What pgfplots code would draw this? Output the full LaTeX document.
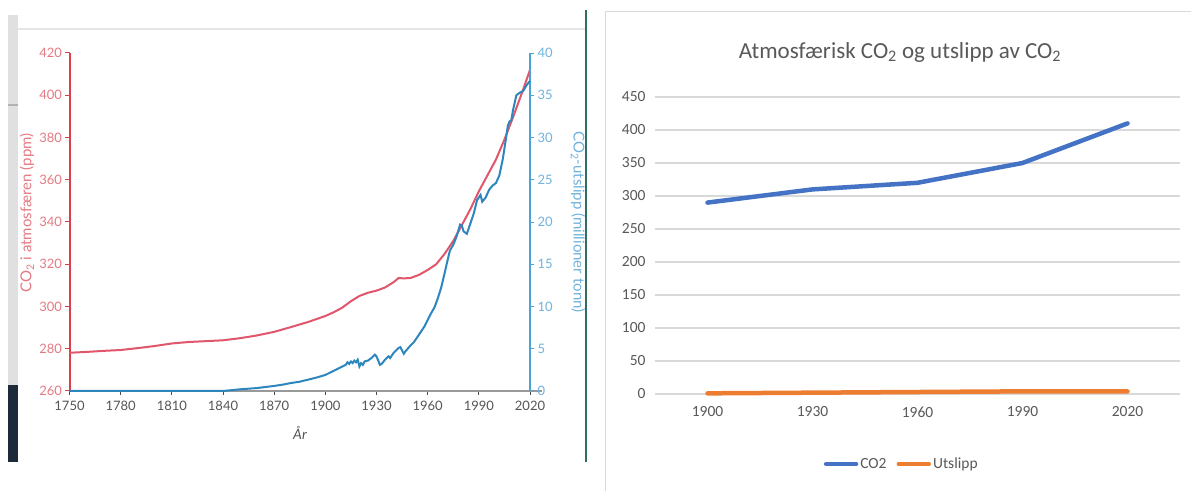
\documentclass[border=0pt]{standalone}
\usepackage{fontspec}
\setmainfont{Lato}
\newfontfamily\xlfont{Carlito}
\usepackage{pgfplots}
\pgfplotsset{compat=1.18}
\definecolor{redaxis}{HTML}{D9404C}
\definecolor{redline}{HTML}{E0566A}
\definecolor{redlab}{HTML}{E57A82}
\definecolor{blueaxis}{HTML}{4AA3D6}
\definecolor{blueline}{HTML}{2E86BE}
\definecolor{bluelab}{HTML}{6FB3DE}
\definecolor{greylab}{HTML}{555555}
\definecolor{navy}{HTML}{1C2A3A}
\definecolor{dgreen}{HTML}{2F6E60}
\definecolor{xlblue}{HTML}{4472C4}
\definecolor{xlorange}{HTML}{ED7D31}
\definecolor{xltext}{HTML}{595959}
\definecolor{xlgrid}{HTML}{D9D9D9}
\begin{document}
\begin{tikzpicture}
\useasboundingbox (0pt,0pt) rectangle (1191pt,490pt);
\fill[white] (0pt,0pt) rectangle (1191pt,490pt);
% left panel decorations
\fill[black!12] (8pt,105pt) rectangle (18pt,475pt);
\fill[black!30] (8pt,384pt) rectangle (18pt,386pt);
\fill[navy] (8pt,28pt) rectangle (18pt,105pt);
\draw[black!10, line width=2pt] (18pt,461pt) -- (585pt,461pt);
\draw[dgreen, line width=2pt] (586pt,28pt) -- (586pt,480pt);
% right panel border
\draw[xlgrid, line width=1pt] (605pt,-2pt) -- (605pt,478pt) -- (1195pt,478pt);

% ---------- left chart: CO2 ppm ----------
\begin{axis}[at={(69.5pt,99pt)}, anchor=south west, width=460.5pt, height=338pt,
  scale only axis, xmin=1750, xmax=2020, ymin=260, ymax=420,
  axis x line*=bottom, axis y line*=left,
  xtick={1750,1780,...,2020}, ytick={260,280,...,420},
  x axis line style={draw=black!40, line width=1.5pt},
  y axis line style={draw=redaxis, line width=2pt},
  xtick style={draw=black!70, line width=1pt},
  ytick style={draw=redaxis, line width=1pt},
  tick align=outside, major tick length=4pt,
  /pgf/number format/1000 sep={}, /pgf/number format/assume math mode=true,
  xticklabel style={font=\fontsize{13}{15}\selectfont, text=greylab, yshift=-3pt},
  yticklabel style={font=\fontsize{13}{15}\selectfont, text=redlab},
  clip=false]
\addplot[redline, line width=2pt] coordinates {
(1750,278.1)(1760,278.5)(1770,279.0)(1780,279.4)(1790,280.3)(1800,281.3)
(1810,282.5)(1820,283.2)(1830,283.6)(1840,284.0)(1850,285.0)(1860,286.3)
(1870,288.0)(1880,290.3)(1890,292.7)(1900,295.5)(1905,297.3)(1910,299.5)
(1915,302.5)(1920,305.0)(1925,306.5)(1930,307.5)(1935,309.0)(1940,311.5)
(1943,313.5)(1946,313.3)(1950,313.5)(1955,315.0)(1960,317.3)(1965,320.0)
(1970,325.0)(1975,331.0)(1980,338.5)(1985,346.0)(1990,354.5)(1995,362.0)
(2000,369.5)(2005,379.0)(2010,389.5)(2015,400.5)(2020,412.0)};
\draw[black!40, line width=1.5pt] (axis cs:2020,260) -- (axis cs:2027,260);
\end{axis}

% ---------- left chart: emissions ----------
\begin{axis}[at={(69.5pt,99pt)}, anchor=south west, width=460.5pt, height=338pt,
  scale only axis, xmin=1750, xmax=2020, ymin=0, ymax=40,
  axis x line=none, axis y line*=right,
  ytick={0,5,...,40},
  y axis line style={draw=blueaxis, line width=2pt},
  ytick style={draw=blueaxis, line width=1pt},
  tick align=outside, major tick length=4pt,
  /pgf/number format/assume math mode=true,
  yticklabel style={font=\fontsize{13}{15}\selectfont, text=bluelab},
  clip=false]
\addplot[blueline, line width=2pt] coordinates {
(1750,0)(1840,0)(1845,0.1)(1850,0.2)(1860,0.35)(1870,0.6)(1875,0.75)
(1880,0.95)(1885,1.1)(1890,1.35)(1895,1.6)(1900,1.9)(1903,2.2)(1906,2.5)
(1909,2.8)(1912,3.1)(1913,3.4)(1914,3.2)(1915,3.5)(1916,3.3)(1917,3.6)
(1918,3.4)(1919,3.7)(1920,2.9)(1921,3.3)(1922,3.1)(1923,3.5)(1925,3.6)
(1927,3.9)(1929,4.3)(1930,4.1)(1932,3.1)(1933,3.2)(1935,3.7)(1937,4.1)
(1938,3.9)(1940,4.5)(1943,5.1)(1944,5.2)(1945,4.8)(1946,4.4)(1947,4.7)
(1950,5.4)(1952,5.8)(1954,6.4)(1956,7.0)(1958,7.6)(1960,8.4)(1962,9.2)
(1964,9.9)(1966,11.0)(1968,12.3)(1970,14.0)(1971,14.9)(1973,16.6)
(1975,17.3)(1977,18.3)(1979,19.7)(1980,19.6)(1981,18.9)(1983,18.6)
(1985,19.8)(1987,21.0)(1989,22.6)(1991,23.2)(1992,22.4)(1994,22.9)
(1996,23.8)(1998,24.3)(2000,24.6)(2002,25.5)(2004,27.4)(2006,30.0)
(2007,31.4)(2008,31.9)(2009,32.0)(2010,33.2)(2012,35.0)(2014,35.3)
(2016,35.5)(2018,36.2)(2020,36.7)};
\end{axis}
\node[rotate=90, text=redlab, font=\fontsize{15}{17}\selectfont] at (27pt,277pt) {CO\textsubscript{2} i atmosfæren (ppm)};
\node[rotate=-90, text=bluelab, font=\fontsize{15}{17}\selectfont] at (578pt,268pt) {CO\textsubscript{2}-utslipp (millioner tonn)};
\node[text=greylab, font=\fontsize{14}{16}\selectfont\itshape] at (300pt,57pt) {År};

% ---------- right chart (Excel) ----------
\begin{axis}[at={(655pt,96pt)}, anchor=south west, width=525pt, height=297pt,
  scale only axis, xmin=-0.5, xmax=4.5, ymin=0, ymax=450,
  ytick={0,50,...,450}, xtick={0,1,2,3,4},
  xticklabels={1900,1930,1960,1990,2020},
  axis line style={draw=none}, major tick length=0pt,
  ymajorgrids, grid style={draw=xlgrid, line width=1.2pt},
  /pgf/number format/assume math mode=true,
  xticklabel style={font=\xlfont\fontsize{15.5}{17}\selectfont, text=xltext, yshift=-9pt},
  yticklabel style={font=\xlfont\fontsize{15.5}{17}\selectfont, text=xltext, xshift=-6pt},
  legend style={at={(0.47,-0.236)}, anchor=center, draw=none, fill=none,
    legend columns=2, font=\xlfont\fontsize{15.5}{17}\selectfont, text=xltext,
    /tikz/every even column/.append style={column sep=8pt}},
  legend image code/.code={\draw[#1, line cap=round] (0pt,0pt) -- (30pt,0pt);},
  clip=false]
\addplot[xlblue, line width=4.5pt, line join=round, line cap=round] coordinates {(0,290)(1,310)(2,320)(3,350)(4,410)};
\addlegendentry{CO2}
\addplot[xlorange, line width=4.5pt, line join=round, line cap=round] coordinates {(0,1)(1,2)(2,3)(3,4)(4,4)};
\addlegendentry{Utslipp}
\end{axis}
\node[text=xltext, font=\xlfont\fontsize{23}{26}\selectfont] at (900pt,438pt) {Atmosfærisk CO\textsubscript{2} og utslipp av CO\textsubscript{2}};
\end{tikzpicture}
\end{document}
